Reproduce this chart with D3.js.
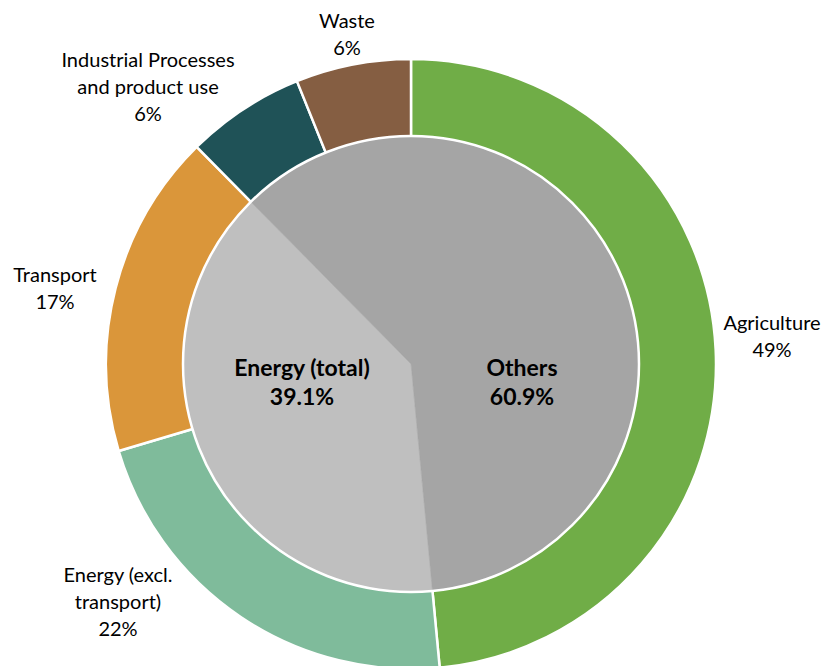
<!DOCTYPE html>
<html>
<head>
<meta charset="utf-8">
<script src="https://cdn.jsdelivr.net/npm/d3@7"></script>
<style>
html,body{margin:0;padding:0;background:#fff;}
svg{display:block;}
</style>
</head>
<body>
<svg id="chart" width="825" height="666"></svg>
<script>
// ---- data ----
const outerCategories = ["Agriculture", "Energy (excl. transport)", "Transport", "Industrial Processes and product use", "Waste"];
const outerValues = [48.5, 21.9, 17.2, 6.3, 6.1];
const outerLabelLines = [["Agriculture"], ["Energy (excl.", "transport)"], ["Transport"], ["Industrial Processes", "and product use"], ["Waste"]];
const innerCategories = ["Energy (total)", "Others"];
const innerValues = [39.1, 60.9];

// ---- styles / layout ----
const outerColors = ["#70AD47", "#7FBB9B", "#DA963A", "#1F5257", "#855E42"];
const innerColors = ["#BFBFBF", "#A5A5A5"];
const cx = 411, cy = 364;
const rOuter = 305, rInner = 228;
// label anchors (center x, first baseline y) relative to chart center
const outerLabelAnchors = [[361, -34], [-293, 218], [-356, -82], [-263, -297], [-64, -336]];
const innerLabelAnchors = [[-109, 12], [111, 12]];
const lineH = 27;

const svg = d3.select("#chart");
const g = svg.append("g").attr("transform", `translate(${cx},${cy})`);

const outerData = outerCategories.map((c, i) => ({cat: c, value: outerValues[i], i}));
const innerData = innerCategories.map((c, i) => ({cat: c, value: innerValues[i], i}));

const pieOuter = d3.pie().sort(null).value(d => d.value);
const outerArcs = pieOuter(outerData);

const arcOuter = d3.arc().innerRadius(0).outerRadius(rOuter);
g.selectAll("path.outer").data(outerArcs).join("path")
  .attr("class", "outer")
  .attr("d", arcOuter)
  .attr("fill", d => outerColors[d.data.i])
  .attr("stroke", "#fff")
  .attr("stroke-width", 2.5)
  .attr("stroke-linejoin", "round");

// inner pie: Energy (total) aligned with energy + transport segments of the ring
const innerStart = outerArcs[0].endAngle;
const pieInner = d3.pie().sort(null).value(d => d.value)
  .startAngle(innerStart).endAngle(innerStart + 2 * Math.PI);
const innerArcs = pieInner(innerData);
const arcInner = d3.arc().innerRadius(0).outerRadius(rInner);
g.selectAll("path.inner").data(innerArcs).join("path")
  .attr("class", "inner")
  .attr("d", arcInner)
  .attr("fill", d => innerColors[d.data.i])
  .attr("stroke", d => innerColors[d.data.i])
  .attr("stroke-width", 0.5);
g.append("circle").attr("r", rInner).attr("fill", "none")
  .attr("stroke", "#fff").attr("stroke-width", 2.5);

const fmtPct = v => Math.round(v) + "%";
const font = "Lato, 'Open Sans', sans-serif";

// outer labels
outerData.forEach((d, i) => {
  const lines = outerLabelLines[i].concat([fmtPct(d.value)]);
  const [ax, ay] = outerLabelAnchors[i];
  const t = g.append("text")
    .attr("text-anchor", "middle")
    .attr("font-family", font)
    .attr("font-size", 20)
    .attr("fill", "#000");
  lines.forEach((ln, k) => {
    t.append("tspan").attr("x", ax).attr("y", ay + k * lineH).text(ln);
  });
});

// inner labels
innerData.forEach((d, i) => {
  const [ax, ay] = innerLabelAnchors[i];
  const t = g.append("text")
    .attr("text-anchor", "middle")
    .attr("font-family", font)
    .attr("font-size", 23)
    .attr("font-weight", "bold")
    .attr("fill", "#000");
  t.append("tspan").attr("x", ax).attr("y", ay).text(d.cat);
  t.append("tspan").attr("x", ax).attr("y", ay + 29).text(d.value.toFixed(1) + "%");
});
</script>
</body>
</html>
